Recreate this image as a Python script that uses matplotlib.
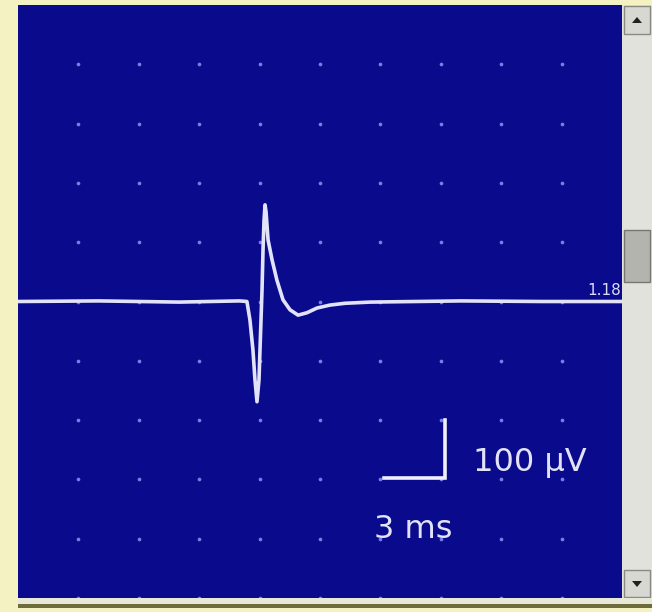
import numpy as np
import matplotlib.pyplot as plt
from matplotlib.patches import Rectangle, Polygon

# trace (time in ms, amplitude in uV)
t_ms = [0, 4, 8, 11.0, 11.37, 11.52, 11.67, 11.77, 11.87, 11.97, 12.07, 12.12,
        12.17, 12.22, 12.27, 12.32, 12.42, 12.62, 12.86, 13.16, 13.51, 13.91,
        14.35, 14.85, 15.5, 16.24, 17.48, 22, 26, 30]
v_uv = [0, 1, -1, 1, 0, -31, -82, -132, -169, -132, -31, 19,
        87, 137, 163, 151, 104, 70, 36, 3, -14, -23,
        -19, -11, -6, -3, -1, 1, 0, 0]

x_div_ms = 3
y_div_uv = 100
marker_label = "1.18"
bar_v_label = "100 µV"
bar_h_label = "3 ms"

W, H = 652, 612
fig = plt.figure(figsize=(W / 100, H / 100), dpi=100)
fig.patch.set_facecolor('#f4f1c2')

# panel
px_l, px_r, px_t, px_b = 18, 622, 5, 598
ax = fig.add_axes([px_l / W, (H - px_b) / H, (px_r - px_l) / W, (px_b - px_t) / H])
ax.set_facecolor('#0a0b8c')
ax.set_xlim(0, 30)
ax.set_ylim(-500, 500)
ax.set_xticks([])
ax.set_yticks([])
for s in ax.spines.values():
    s.set_visible(False)

# grid dots
gx, gy = np.meshgrid(np.arange(3, 30, x_div_ms), np.arange(-500, 500, y_div_uv))
ax.scatter(gx.ravel(), gy.ravel(), s=7, color='#7c7ce6', lw=0, zorder=1)

trace_col = '#e2e2f8'
ax.plot(t_ms, v_uv, color=trace_col, lw=2.6, zorder=3,
        solid_joinstyle='round', solid_capstyle='round')
font = ['Liberation Sans Narrow', 'DejaVu Sans']
ax.text(29.95, 6, marker_label, color='#dcdcf4', fontsize=11, ha='right',
        va='bottom', family=font)

# scale bar
bx, by = 18.2, -297
ax.plot([bx, bx + x_div_ms, bx + x_div_ms], [by, by, by + y_div_uv * 0.98],
        color='#f0f0fa', lw=2.6, zorder=3, solid_joinstyle='miter')
ax.text(22.6, -272, bar_v_label, color=trace_col, fontsize=23, ha='left',
        va='center', family=font)
ax.text(17.7, -385, bar_h_label, color=trace_col, fontsize=23, ha='left',
        va='center', family=font)

# scrollbar
def box(x0, y0, x1, y1, fc, ec='none'):
    fig.patches.append(Rectangle((x0 / W, 1 - y1 / H), (x1 - x0) / W, (y1 - y0) / H,
                                 transform=fig.transFigure, fc=fc, ec=ec, lw=1))

box(622, 5, 652, 598, '#e2e2dc')
box(624, 6, 650, 34, '#d8d8d2', '#8a8a84')
box(624, 230, 650, 282, '#b4b4ae', '#77776f')
box(624, 570, 650, 597, '#d8d8d2', '#8a8a84')
for cy, d in [(20, -1), (584, 1)]:
    pts = [(637 - 5, cy - 3 * d), (637 + 5, cy - 3 * d), (637, cy + 3 * d)]
    fig.patches.append(Polygon([(p / W, 1 - q / H) for p, q in pts], closed=True,
                               transform=fig.transFigure, fc='#202020'))

# bottom strip
box(18, 598, 652, 604, '#e8e8d8')
box(18, 604, 652, 608, '#6e6c3a')

fig.savefig('out.png', dpi=100)
